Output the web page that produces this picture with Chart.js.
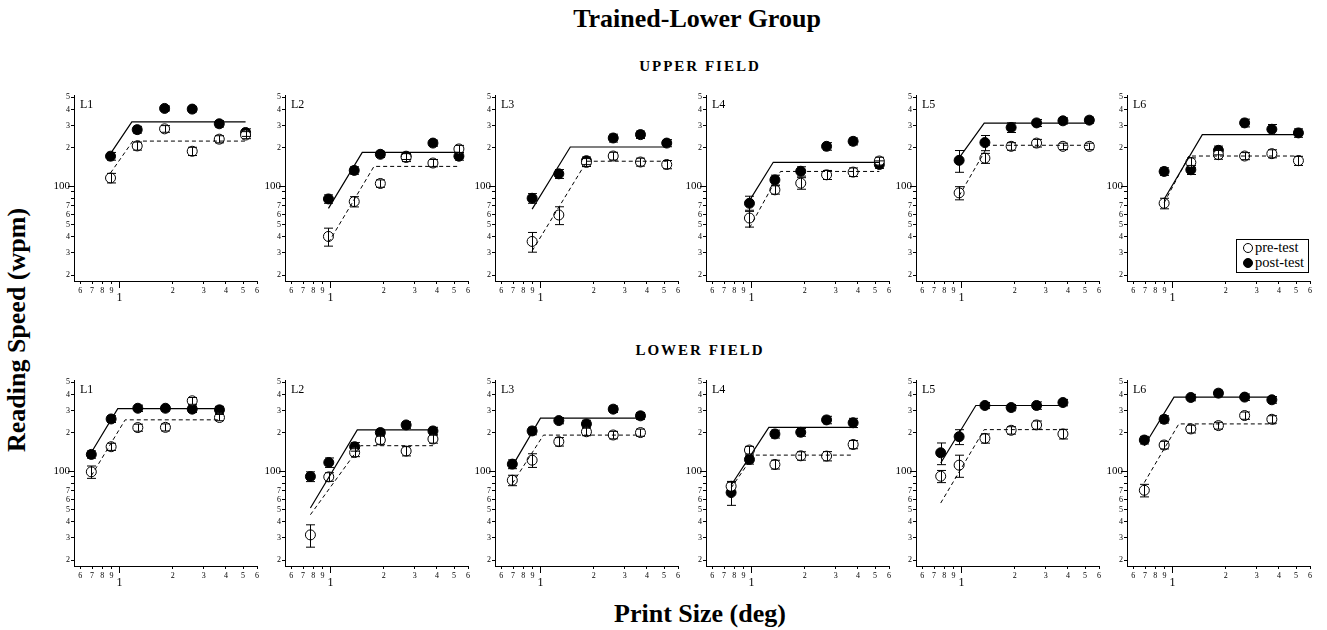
<!DOCTYPE html>
<html>
<head>
<meta charset="utf-8">
<script src="https://cdn.jsdelivr.net/npm/chart.js@4.4.1/dist/chart.umd.min.js"></script>
<style>
  body { margin: 0; background: #fff; }
  #page { position: relative; width: 1327px; height: 630px; overflow: hidden; font-family: "Liberation Serif", "Times New Roman", serif; color: #000; }
  #page canvas { position: absolute; }
  .t { position: absolute; font-weight: bold; white-space: nowrap; line-height: 1; text-align: center; }
  #legend { position: absolute; left: 1236px; top: 239px; width: 71px; height: 32px; border: 1px solid #000; background: #fff; font-size: 14.5px; }
  #legend div { position: relative; height: 15px; line-height: 15px; padding-left: 18px; }
  #legend span { position: absolute; left: 6px; top: 3px; width: 8px; height: 8px; border: 1px solid #000; border-radius: 50%; }
</style>
</head>
<body>
<div id="page">
  <div class="t" id="title" style="left:447px;top:6px;width:500px;font-size:26px;"></div>
  <div class="t" id="field0" style="left:550px;top:59px;width:300px;font-size:15px;letter-spacing:2px;"></div>
  <div class="t" id="field1" style="left:550px;top:343px;width:300px;font-size:15px;letter-spacing:2px;"></div>
  <div class="t" id="ytitle" style="left:17px;top:330px;width:320px;font-size:26px;transform:translate(-50%,-50%) rotate(-90deg);"></div>
  <div class="t" id="xtitle" style="left:450px;top:601px;width:500px;font-size:26px;"></div>
  <div id="legend"></div>
</div>
<script>
// print size (deg) and reading speed (wpm), one row per letter position L1..L6
const upperSize = [
  [0.89, 1.26, 1.80, 2.58, 3.67, 5.17],
  [0.974, 1.363, 1.915, 2.68, 3.80, 5.33],
  [0.897, 1.27, 1.82, 2.58, 3.68, 5.18],
  [0.974, 1.357, 1.90, 2.66, 3.76, 5.29],
  [0.97, 1.357, 1.91, 2.66, 3.75, 5.29],
  [0.897, 1.27, 1.82, 2.56, 3.65, 5.16]
];
const upperPre = [
  [116, 207, 282, 188, 234, 252],
  [40.3, 75.7, 105, 168, 152, 196],
  [36.8, 59.4, 153.7, 172.5, 154.8, 148],
  [56.2, 93.6, 105.6, 122.8, 129, 157.6],
  [88.6, 166, 205.6, 218, 205.6, 205.6],
  [73.4, 153.7, 176.7, 172.5, 180, 158.5]
];
const upperPost = [
  [172, 278, 408, 403, 309, 264],
  [79.4, 133, 178, 172, 218, 172],
  [80.4, 125, 158.5, 239, 254, 218],
  [73.4, 112, 131, 205.6, 225, 148],
  [159.5, 220, 289, 314, 326, 330],
  [130.5, 134.5, 191.3, 314, 280, 262]
];
const upperPreErr = [
  [10, 15, 17, 14, 15, 16],
  [6.5, 7, 7, 12, 10, 13],
  [6.5, 9.5, 11, 12, 11, 11],
  [8.5, 7, 11, 10, 10, 11],
  [10.5, 15, 14, 15, 12, 12],
  [7, 13, 14, 11, 13, 13]
];
const upperPostErr = [
  [12, 17, 18, 20, 18, 18],
  [6, 9, 10, 10, 12, 12],
  [7, 10, 11, 17, 17, 14],
  [10, 10, 11, 14, 14, 10],
  [31, 30, 25, 20, 18, 18],
  [9, 11, 15, 22, 25, 20]
];
// two-limb fits: [start, critical print size, end]
const upperPreFitX = [
  [0.89, 1.19, 5.17], [0.974, 1.763, 5.33], [0.897, 1.83, 5.18],
  [0.974, 1.46, 5.29], [0.97, 1.418, 5.29], [0.897, 1.239, 5.45]
];
const upperPreFitY = [
  [127, 226, 226], [36, 143, 143], [31, 157, 157],
  [47, 130.5, 130.5], [84, 209.5, 209.5], [74, 172.5, 172.5]
];
const upperPostFitX = [
  [0.89, 1.175, 5.17], [0.974, 1.513, 5.33], [0.897, 1.475, 5.18],
  [0.974, 1.328, 5.29], [0.97, 1.345, 5.29], [0.897, 1.475, 5.45]
];
const upperPostFitY = [
  [180, 320, 320], [67, 184, 184], [66, 203, 203],
  [77, 154, 154], [167, 312.5, 312.5], [79, 254, 254]
];

const lowerSize = [
  [0.693, 0.897, 1.27, 1.82, 2.58, 3.68],
  [0.77, 0.978, 1.37, 1.915, 2.68, 3.80],
  [0.693, 0.897, 1.27, 1.82, 2.58, 3.68],
  [0.767, 0.974, 1.357, 1.90, 2.66, 3.76],
  [0.763, 0.97, 1.357, 1.91, 2.66, 3.75],
  [0.693, 0.897, 1.27, 1.82, 2.56, 3.65]
];
const lowerPre = [
  [98.8, 155.6, 220, 221, 357, 264],
  [31.6, 90.2, 140, 175.6, 143.8, 179],
  [84.9, 122, 170.5, 204, 192.4, 201],
  [76.1, 146.5, 112.9, 132, 131.4, 162],
  [91.3, 111.5, 181, 209.5, 230.7, 196],
  [70.8, 160.5, 214.6, 228, 273.5, 255.6]
];
const lowerPost = [
  [135.4, 257, 312, 312, 307, 303],
  [90.8, 117, 155.6, 201, 230.7, 207],
  [113.6, 207, 249.6, 235, 307, 272],
  [67.9, 123.6, 196, 202, 252.7, 240],
  [139.5, 186.7, 328, 316, 328, 346],
  [175.6, 255.6, 379, 410, 381.6, 363.6]
];
const lowerPreErr = [
  [11, 10, 14, 14, 22, 15],
  [6.3, 7, 10, 13, 12, 13],
  [8, 15, 13, 14, 13, 13],
  [7, 10, 9, 10, 11, 12],
  [10, 22, 15, 14, 17, 17],
  [8, 11, 15, 14, 18, 17]
];
const lowerPostErr = [
  [9, 16, 18, 16, 18, 20],
  [8, 10, 12, 12, 14, 14],
  [9, 14, 14, 16, 18, 17],
  [14, 10, 14, 14, 17, 20],
  [27, 25, 18, 18, 22, 20],
  [12, 17, 22, 22, 22, 22]
];
const lowerPreFitX = [
  [0.693, 1.077, 3.68], [0.77, 1.48, 3.80], [0.693, 1.04, 3.68],
  [0.767, 1.03, 3.76], [0.763, 1.345, 3.9], [0.693, 1.086, 3.85]
];
const lowerPreFitY = [
  [92, 253, 253], [45.5, 158.5, 158.5], [80, 192, 192],
  [73.8, 133.7, 133.7], [56.2, 212, 212], [81.4, 235, 235]
];
const lowerPostFitX = [
  [0.693, 0.978, 3.68], [0.77, 1.418, 3.80], [0.693, 1.0, 3.68],
  [0.767, 1.254, 3.95], [0.763, 1.206, 3.9], [0.693, 1.02, 3.85]
];
const lowerPostFitY = [
  [140, 310, 310], [51.4, 210.7, 210.7], [109.5, 260.5, 260.5],
  [77.5, 221, 221], [116, 328, 328], [158.5, 381.6, 381.6]
];

const panelNames = ["L1", "L2", "L3", "L4", "L5", "L6"];
const fieldTitles = ["UPPER FIELD", "LOWER FIELD"];
const legendLabels = ["pre-test", "post-test"];
const yTickValues = [20, 30, 40, 50, 60, 70, 80, 90, 100, 200, 300, 400, 500];
const yTickLabels = ["2", "3", "4", "5", "6", "7", "", "", "100", "2", "3", "4", "5"];
const xTickValues = [0.6, 0.7, 0.8, 0.9, 1, 2, 3, 4, 5, 6];
const xTickLabels = ["6", "7", "8", "9", "1", "2", "3", "4", "5", "6"];

const serif = '"Liberation Serif", "Times New Roman", serif';

document.getElementById("title").textContent = "Trained-Lower Group";
document.getElementById("field0").textContent = fieldTitles[0];
document.getElementById("field1").textContent = fieldTitles[1];
document.getElementById("ytitle").textContent = "Reading Speed (wpm)";
document.getElementById("xtitle").textContent = "Print Size (deg)";

var legendHtml = "";
legendLabels.forEach(function (lab, i) {
  legendHtml += '<div><span style="background:' + (i == 0 ? "#fff" : "#000") + '"></span>' + lab + "</div>";
});
document.getElementById("legend").innerHTML = legendHtml;

function pts(xs, ys) {
  return xs.map(function (x, i) { return { x: x, y: ys[i] }; });
}

// vertical error bars with caps, drawn on top of the markers
var errorBars = {
  id: "errorBars",
  afterDatasetsDraw: function (chart) {
    var ctx = chart.ctx, xs = chart.scales.x, ys = chart.scales.y;
    ctx.save();
    ctx.strokeStyle = "#000";
    ctx.lineWidth = 1;
    chart.data.datasets.forEach(function (ds) {
      if (!ds.errors) return;
      ds.data.forEach(function (p, i) {
        var px = Math.round(xs.getPixelForValue(p.x)) + 0.5;
        var top = ys.getPixelForValue(p.y + ds.errors[i]);
        var bot = ys.getPixelForValue(p.y - ds.errors[i]);
        ctx.beginPath();
        ctx.moveTo(px, top); ctx.lineTo(px, bot);
        ctx.moveTo(px - 4.5, top); ctx.lineTo(px + 4.5, top);
        ctx.moveTo(px - 4.5, bot); ctx.lineTo(px + 4.5, bot);
        ctx.stroke();
      });
    });
    ctx.restore();
  }
};

// panel name and the longer ticks at 1 deg and 100 wpm
var panelDecor = {
  id: "panelDecor",
  afterDraw: function (chart, args, opts) {
    var ctx = chart.ctx, a = chart.chartArea;
    var x1 = Math.round(chart.scales.x.getPixelForValue(1)) + 0.5;
    var y100 = Math.round(chart.scales.y.getPixelForValue(100)) + 0.5;
    ctx.save();
    ctx.strokeStyle = "#000";
    ctx.lineWidth = 1;
    ctx.beginPath();
    ctx.moveTo(x1, a.bottom); ctx.lineTo(x1, a.bottom + 7);
    ctx.moveTo(a.left - 6, y100); ctx.lineTo(a.left, y100);
    ctx.stroke();
    ctx.fillStyle = "#000";
    ctx.font = "12px " + serif;
    ctx.textBaseline = "middle";
    ctx.fillText(opts.name, a.left + 6, a.top + 10);
    ctx.restore();
  }
};

var fields = [
  { size: upperSize, pre: upperPre, post: upperPost, preErr: upperPreErr, postErr: upperPostErr,
    preFitX: upperPreFitX, preFitY: upperPreFitY, postFitX: upperPostFitX, postFitY: upperPostFitY },
  { size: lowerSize, pre: lowerPre, post: lowerPost, preErr: lowerPreErr, postErr: lowerPostErr,
    preFitX: lowerPreFitX, preFitY: lowerPreFitY, postFitX: lowerPostFitX, postFitY: lowerPostFitY }
];

var page = document.getElementById("page");

fields.forEach(function (f, row) {
  for (let col = 0; col < 6; col++) {
    var canvas = document.createElement("canvas");
    canvas.width = 231;
    canvas.height = 226;
    canvas.style.left = (Math.round(74 + 210.6 * col) - 36) + "px";
    canvas.style.top = (95 + 285 * row - 10) + "px";
    page.appendChild(canvas);

    new Chart(canvas.getContext("2d"), {
      type: "scatter",
      data: {
        datasets: [
          {
            data: pts(f.preFitX[col], f.preFitY[col]),
            showLine: true, borderColor: "#000", borderWidth: 1, borderDash: [4, 3],
            pointRadius: 0, fill: false
          },
          {
            data: pts(f.postFitX[col], f.postFitY[col]),
            showLine: true, borderColor: "#000", borderWidth: 1.2,
            pointRadius: 0, fill: false
          },
          {
            data: pts(f.size[col], f.pre[col]),
            errors: f.preErr[col],
            pointRadius: 5, pointBackgroundColor: "#fff", pointBorderColor: "#000", pointBorderWidth: 1
          },
          {
            data: pts(f.size[col], f.post[col]),
            errors: f.postErr[col],
            pointRadius: 5, pointBackgroundColor: "#000", pointBorderColor: "#000", pointBorderWidth: 1
          }
        ]
      },
      options: {
        responsive: false,
        animation: false,
        events: [],
        layout: { padding: { top: 10, right: 12, left: 0, bottom: 0 } },
        plugins: {
          legend: { display: false },
          tooltip: { enabled: false },
          panelDecor: { name: panelNames[col] }
        },
        scales: {
          x: {
            type: "logarithmic",
            min: 0.553,
            max: 6,
            afterBuildTicks: function (s) { s.ticks = xTickValues.map(function (v) { return { value: v }; }); },
            afterFit: function (s) { s.height = 30; },
            border: { display: true, color: "#000", width: 1 },
            grid: { display: true, drawOnChartArea: false, drawTicks: true, tickLength: 3, tickColor: "#000" },
            ticks: {
              autoSkip: false,
              maxRotation: 0,
              padding: 2,
              color: "#000",
              callback: function (v) { return xTickLabels[xTickValues.indexOf(v)]; },
              font: function (c) {
                return c.tick && c.tick.value === 1
                  ? { family: serif, size: 12, lineHeight: 2 }
                  : { family: serif, size: 8 };
              }
            }
          },
          y: {
            type: "logarithmic",
            min: 18,
            max: 520,
            afterBuildTicks: function (s) { s.ticks = yTickValues.map(function (v) { return { value: v }; }); },
            afterFit: function (s) { s.width = 36; },
            border: { display: true, color: "#000", width: 1 },
            grid: { display: true, drawOnChartArea: false, drawTicks: true, tickLength: 3, tickColor: "#000" },
            ticks: {
              autoSkip: false,
              padding: 1,
              color: "#000",
              callback: function (v) { return yTickLabels[yTickValues.indexOf(v)]; },
              font: function (c) {
                return c.tick && c.tick.value === 100
                  ? { family: serif, size: 11 }
                  : { family: serif, size: 8 };
              }
            }
          }
        }
      },
      plugins: [errorBars, panelDecor]
    });
  }
});
</script>
</body>
</html>
